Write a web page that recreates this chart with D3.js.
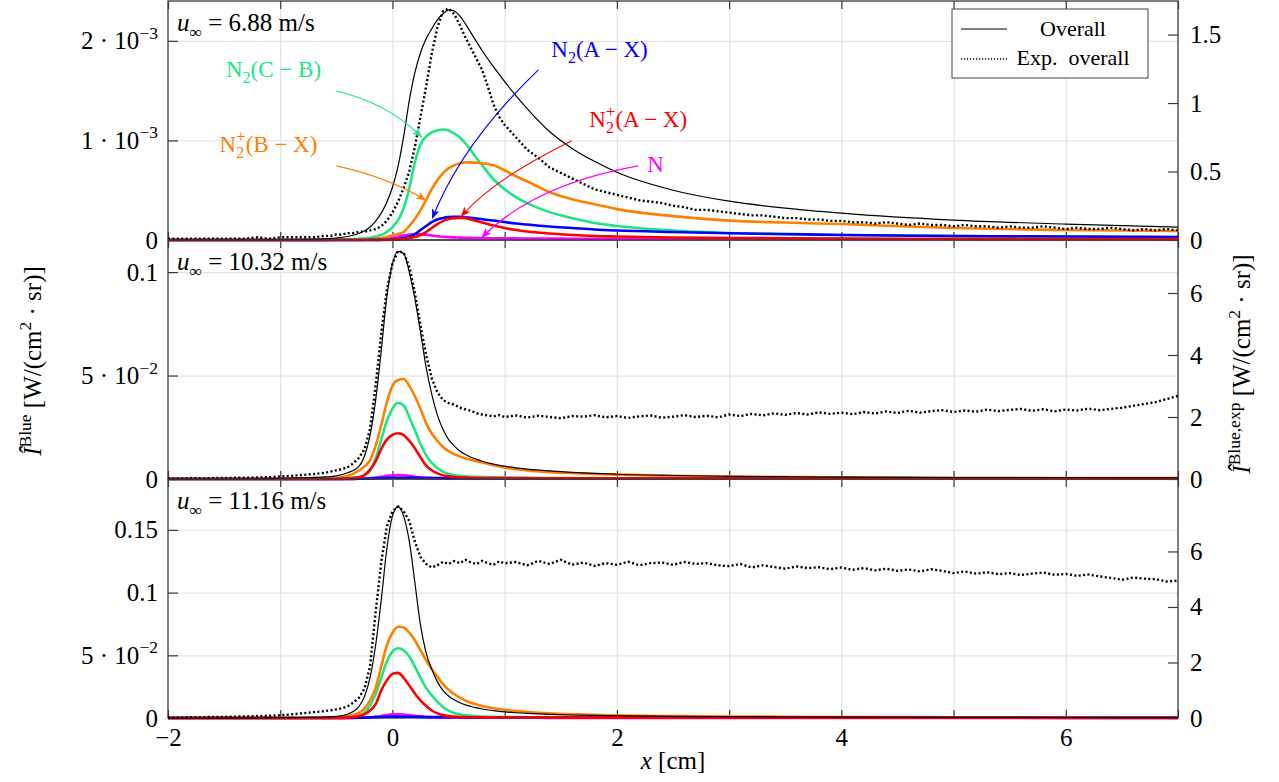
<!DOCTYPE html>
<html>
<head>
<meta charset="utf-8">
<style>
  body { margin: 0; background: #fff; }
  svg, text, tspan { font-family: "Liberation Serif", "DejaVu Serif", serif; }
  text { fill: #000; }
</style>
</head>
<body>
<div id="chartId"></div>
<script src="https://cdn.jsdelivr.net/npm/d3@7/dist/d3.min.js"></script>
<script>

// x positions [cm] of the model curves
const modelX = [-2,-1.5,-1,-0.8,-0.6,-0.5,-0.4,-0.3,-0.25,-0.2,-0.15,-0.1,-0.05,0,0.05,0.1,0.15,0.2,0.25,0.3,0.35,0.4,0.45,0.5,0.55,0.6,0.65,0.7,0.75,0.8,0.9,1.0,1.1,1.2,1.4,1.6,1.8,2.0,2.5,3.0,3.5,4.0,5.0,6.0,7.0];

// u = 6.88 m/s, model values in units of 1e-3 W/(cm2 sr)
const topOverall = [0,0,0.002,0.005,0.012,0.02,0.035,0.065,0.09,0.13,0.19,0.27,0.38,0.53,0.74,1.04,1.40,1.68,1.88,2.02,2.12,2.21,2.27,2.31,2.30,2.25,2.17,2.08,1.99,1.90,1.74,1.59,1.45,1.32,1.09,0.92,0.79,0.68,0.50,0.39,0.32,0.27,0.20,0.16,0.13];
const topCB = [0,0,0,0.001,0.002,0.004,0.007,0.012,0.016,0.022,0.035,0.05,0.08,0.13,0.20,0.32,0.52,0.78,0.96,1.04,1.08,1.10,1.11,1.10,1.07,1.03,0.97,0.90,0.82,0.75,0.61,0.51,0.43,0.37,0.28,0.22,0.17,0.14,0.095,0.07,0.055,0.05,0.04,0.035,0.03];
const topBX = [0,0,0,0,0.001,0.002,0.003,0.005,0.007,0.01,0.014,0.02,0.03,0.045,0.06,0.08,0.14,0.21,0.30,0.40,0.51,0.60,0.67,0.72,0.75,0.77,0.78,0.78,0.775,0.77,0.75,0.70,0.64,0.59,0.48,0.41,0.36,0.31,0.24,0.195,0.175,0.16,0.12,0.10,0.09];
const topAX = [0,0,0,0,0,0,0,0,0,0.001,0.001,0.002,0.003,0.005,0.01,0.02,0.035,0.06,0.10,0.14,0.18,0.205,0.22,0.23,0.233,0.232,0.228,0.222,0.215,0.208,0.195,0.18,0.165,0.155,0.135,0.12,0.105,0.095,0.08,0.068,0.06,0.05,0.04,0.035,0.03];
const topAXion = [0,0,0,0,0,0,0,0,0,0,0,0,0.001,0.003,0.006,0.01,0.02,0.03,0.05,0.08,0.12,0.16,0.19,0.21,0.22,0.222,0.218,0.205,0.19,0.175,0.145,0.12,0.10,0.085,0.065,0.05,0.04,0.035,0.025,0.02,0.018,0.015,0.012,0.01,0.01];
const topN = [0,0,0,0,0,0,0,0.001,0.002,0.003,0.005,0.008,0.012,0.02,0.032,0.045,0.055,0.06,0.058,0.052,0.045,0.038,0.033,0.029,0.026,0.024,0.022,0.021,0.02,0.019,0.018,0.017,0.016,0.015,0.014,0.013,0.012,0.012,0.011,0.01,0.01,0.009,0.008,0.008,0.007];

// u = 10.32 m/s
const midOverall = [0,0,0.0003,0.0006,0.001,0.0015,0.003,0.006,0.011,0.021,0.038,0.062,0.088,0.104,0.110,0.109,0.100,0.087,0.071,0.054,0.041,0.031,0.024,0.019,0.016,0.0135,0.0118,0.0105,0.0095,0.0086,0.0072,0.0062,0.0054,0.0048,0.0039,0.0032,0.0027,0.0023,0.0017,0.0013,0.0011,0.0009,0.0007,0.0006,0.0005];
const midCB = [0,0,0,0,0,0.0002,0.0005,0.001,0.002,0.004,0.010,0.019,0.028,0.034,0.0368,0.0355,0.030,0.0235,0.017,0.0115,0.0078,0.0053,0.0036,0.0025,0.0019,0.0015,0.0013,0.0011,0.001,0.0009,0.0008,0.0007,0.0006,0.0006,0.0005,0.0004,0.0004,0.0003,0.0003,0.0002,0.0002,0.0002,0.0001,0.0001,0.0001];
const midBX = [0,0,0,0.0001,0.0002,0.0005,0.0015,0.004,0.006,0.009,0.016,0.026,0.037,0.045,0.0478,0.0483,0.045,0.040,0.034,0.027,0.022,0.0185,0.0155,0.0135,0.0120,0.0109,0.0100,0.0093,0.0086,0.008,0.0066,0.0055,0.0047,0.0041,0.0033,0.0028,0.0024,0.0021,0.0016,0.0012,0.001,0.0008,0.0006,0.0005,0.0004];
const midAX = [0,0,0,0,0,0,0,0.0001,0.0001,0.0002,0.0003,0.0004,0.0005,0.0006,0.0006,0.0006,0.0006,0.0006,0.0005,0.0005,0.0005,0.0005,0.0004,0.0004,0.0004,0.0004,0.0004,0.0003,0.0003,0.0003,0.0003,0.0003,0.0003,0.0003,0.0002,0.0002,0.0002,0.0002,0.0002,0.0002,0.0001,0.0001,0.0001,0.0001,0.0001];
const midAXion = [0,0,0,0,0,0,0.0002,0.0008,0.0018,0.0045,0.0085,0.0145,0.019,0.0213,0.0221,0.0212,0.0185,0.0148,0.0105,0.0065,0.0042,0.0027,0.0018,0.0013,0.001,0.0008,0.0007,0.0006,0.0006,0.0005,0.0005,0.0004,0.0004,0.0004,0.0003,0.0003,0.0003,0.0003,0.0002,0.0002,0.0002,0.0002,0.0002,0.0002,0.0002];
const midN = [0,0,0,0,0,0,0,0.0001,0.0002,0.0004,0.0007,0.0011,0.0015,0.0018,0.0019,0.0018,0.0015,0.0011,0.0008,0.0006,0.0004,0.0003,0.0003,0.0002,0.0002,0.0002,0.0002,0.0002,0.0002,0.0002,0.0002,0.0002,0.0001,0.0001,0.0001,0.0001,0.0001,0.0001,0.0001,0.0001,0.0001,0.0001,0.0001,0.0001,0.0001];

// u = 11.16 m/s
const botOverall = [0,0,0.0002,0.0004,0.0008,0.0013,0.003,0.009,0.017,0.032,0.058,0.094,0.135,0.161,0.1685,0.161,0.141,0.108,0.074,0.052,0.039,0.029,0.022,0.0175,0.0145,0.0122,0.0105,0.0092,0.0081,0.0072,0.0059,0.0049,0.0042,0.0037,0.0029,0.0024,0.0021,0.0018,0.0013,0.001,0.0008,0.0007,0.0005,0.0004,0.0003];
const botCB = [0,0,0,0,0.0001,0.0002,0.0005,0.002,0.004,0.010,0.019,0.032,0.045,0.053,0.0556,0.054,0.049,0.041,0.032,0.024,0.018,0.013,0.0088,0.0058,0.004,0.0029,0.0022,0.0017,0.0014,0.0012,0.0009,0.0008,0.0007,0.0006,0.0005,0.0005,0.0004,0.0004,0.0003,0.0003,0.0002,0.0002,0.0002,0.0002,0.0002];
const botBX = [0,0,0,0.0001,0.0002,0.0006,0.0015,0.004,0.0075,0.014,0.024,0.041,0.058,0.068,0.0728,0.0722,0.068,0.062,0.054,0.046,0.039,0.033,0.027,0.0225,0.019,0.0162,0.014,0.0122,0.0108,0.0096,0.0078,0.0065,0.0055,0.0048,0.0037,0.003,0.0025,0.0021,0.0015,0.0012,0.001,0.0008,0.0006,0.0005,0.0004];
const botAX = [0,0,0,0,0,0,0.0001,0.0002,0.0003,0.0005,0.0007,0.0009,0.001,0.0011,0.0011,0.0011,0.001,0.001,0.0009,0.0008,0.0008,0.0007,0.0007,0.0006,0.0006,0.0006,0.0005,0.0005,0.0005,0.0005,0.0004,0.0004,0.0004,0.0004,0.0004,0.0003,0.0003,0.0003,0.0002,0.0002,0.0002,0.0002,0.0002,0.0001,0.0001];
const botAXion = [0,0,0,0,0,0,0.0003,0.0015,0.003,0.006,0.011,0.022,0.030,0.0352,0.036,0.032,0.026,0.0195,0.014,0.0095,0.006,0.0037,0.0023,0.0015,0.0011,0.0008,0.0007,0.0006,0.0006,0.0005,0.0005,0.0004,0.0004,0.0004,0.0003,0.0003,0.0003,0.0003,0.0002,0.0002,0.0002,0.0002,0.0002,0.0002,0.0002];
const botN = [0,0,0,0,0,0,0.0001,0.0002,0.0004,0.0006,0.001,0.0016,0.0024,0.0029,0.003,0.0028,0.0023,0.0017,0.0012,0.0008,0.0006,0.0004,0.0003,0.0003,0.0002,0.0002,0.0002,0.0002,0.0002,0.0002,0.0002,0.0002,0.0002,0.0002,0.0001,0.0001,0.0001,0.0001,0.0001,0.0001,0.0001,0.0001,0.0001,0.0001,0.0001];

// experimental samples x [cm]
const expX = [-2,-1.9,-1.8,-1.7,-1.6,-1.5,-1.4,-1.3,-1.2,-1.1,-1,-0.9,-0.8,-0.7,-0.6,
  -0.55,-0.5,-0.45,-0.4,-0.35,-0.3,-0.25,-0.2,-0.15,-0.1,-0.05,0,0.05,0.1,0.15,0.2,0.25,0.3,0.35,0.4,0.45,0.5,0.55,0.6,0.65,0.7,0.75,0.8,0.85,0.9,0.95,1,
  1.1,1.2,1.3,1.4,1.5,1.6,1.7,1.8,1.9,2,2.1,2.2,2.3,2.4,2.5,2.6,2.7,2.8,2.9,3,3.1,3.2,3.3,3.4,3.5,3.6,3.7,3.8,3.9,4,
  4.1,4.2,4.3,4.4,4.5,4.6,4.7,4.8,4.9,5,5.1,5.2,5.3,5.4,5.5,5.6,5.7,5.8,5.9,6,6.1,6.2,6.3,6.4,6.5,6.6,6.7,6.8,6.9,7];
// experimental overall (right axis)
const topExp = [0.01,0.01,0.01,0.01,0.01,0.01,0.01,0.01,0.02,0.01,0.02,0.02,0.02,0.02,0.03,
  0.03,0.04,0.04,0.05,0.05,0.06,0.06,0.07,0.08,0.10,0.14,0.20,0.28,0.38,0.50,0.68,0.90,1.12,1.36,1.55,1.67,1.69,1.65,1.57,1.48,1.40,1.32,1.24,1.12,0.99,0.90,0.84,
  0.75,0.66,0.60,0.53,0.49,0.45,0.41,0.37,0.35,0.33,0.31,0.29,0.28,0.27,0.25,0.24,0.22,0.22,0.21,0.20,
  0.19,0.18,0.18,0.17,0.16,0.16,0.15,0.15,0.14,0.14,0.13,0.13,0.12,0.13,0.12,0.11,0.12,0.11,0.11,0.10,
  0.11,0.10,0.10,0.09,0.10,0.09,0.09,0.10,0.09,0.08,0.09,0.08,0.08,0.09,0.08,0.07,0.08,0.07,0.08,0.07];
const midExp = [0.02,0.02,0.03,0.02,0.03,0.03,0.04,0.04,0.05,0.06,0.08,0.10,0.13,0.16,0.20,
  0.24,0.28,0.32,0.38,0.50,0.68,0.95,1.60,3.00,4.70,6.10,6.95,7.35,7.30,6.85,6.00,4.95,4.00,3.25,2.80,2.55,2.45,2.40,2.30,2.25,2.20,2.12,2.08,2.05,2.02,2.06,2.00,
  2.05,1.98,2.04,2.00,1.96,2.03,2.01,2.06,1.99,2.03,1.97,2.02,2.05,1.98,2.01,2.06,2.00,2.04,1.99,2.08,
  2.03,2.10,2.05,2.12,2.07,2.13,2.08,2.15,2.10,2.14,2.09,2.16,2.11,2.18,2.13,2.20,2.14,2.19,2.22,2.16,
  2.21,2.17,2.24,2.19,2.23,2.26,2.20,2.25,2.18,2.24,2.21,2.27,2.22,2.26,2.30,2.36,2.42,2.48,2.58,2.68];
const botExp = [0.02,0.02,0.03,0.03,0.04,0.04,0.05,0.06,0.07,0.08,0.10,0.13,0.17,0.21,0.25,
  0.28,0.31,0.35,0.42,0.55,0.72,1.05,1.85,3.80,5.60,6.90,7.45,7.62,7.45,7.10,6.35,5.80,5.55,5.42,5.50,5.62,5.55,5.65,5.58,5.70,5.60,5.55,5.66,5.58,5.52,5.64,5.57,
  5.62,5.50,5.66,5.55,5.70,5.52,5.60,5.48,5.58,5.52,5.63,5.50,5.58,5.60,5.52,5.62,5.55,5.58,5.50,5.47,
  5.55,5.42,5.50,5.44,5.38,5.46,5.40,5.43,5.36,5.42,5.34,5.40,5.32,5.38,5.30,5.35,5.28,5.36,5.30,5.22,
  5.28,5.20,5.25,5.18,5.22,5.15,5.20,5.24,5.16,5.19,5.12,5.17,5.10,5.05,4.98,5.06,5.02,5.00,4.92,4.95];

// axis ticks and labels
const speeds = ["6.88", "10.32", "11.16"];
const leftTicks = [[0, 1, 2], [0, 0.05, 0.1], [0, 0.05, 0.1, 0.15]];
const leftLabels = [["0", "1 · 10^−3", "2 · 10^−3"], ["0", "5 · 10^−2", "0.1"], ["0", "5 · 10^−2", "0.1", "0.15"]];
const rightTicks = [[0, 0.5, 1, 1.5], [0, 2, 4, 6], [0, 2, 4, 6]];
const rightLabels = [["0", "0.5", "1", "1.5"], ["0", "2", "4", "6"], ["0", "2", "4", "6"]];
const leftMax = [2.4, 0.1155, 0.1906];
const rightMax = [1.745, 7.71, 8.61];
const xTicks = [-2, -1, 0, 1, 2, 3, 4, 5, 6, 7];
const xLabels = {"-2": "−2", "0": "0", "2": "2", "4": "4", "6": "6"};

// component series, in drawing order
const species = [
  {key: "N", color: "#ff00ff"},
  {key: "CB", color: "#1be67f"},
  {key: "BX", color: "#ff8000"},
  {key: "AX", color: "#0000ff"},
  {key: "AXion", color: "#ff0000"}
];
const modelData = [
  {CB: topCB, BX: topBX, AX: topAX, AXion: topAXion, N: topN, overall: topOverall, exp: topExp},
  {CB: midCB, BX: midBX, AX: midAX, AXion: midAXion, N: midN, overall: midOverall, exp: midExp},
  {CB: botCB, BX: botBX, AX: botAX, AXion: botAXion, N: botN, overall: botOverall, exp: botExp}
];

// annotations in the top panel (left axis units)
const notes = [
  {parts: [["N"], ["2", "sub"], ["(C − B)"]], color: "#1be67f", at: [-1.06, 1.64], from: [-0.5, 1.497], ctrl: [-0.03, 1.37], to: [0.258, 1.035]},
  {parts: [["N"], ["2", "sub"], ["+", "supback"], ["(B − X)"]], color: "#ff8000", at: [-1.105, 0.884], from: [-0.5, 0.744], ctrl: [-0.04, 0.63], to: [0.294, 0.402]},
  {parts: [["N"], ["2", "sub"], ["(A − X)"]], color: "#0000ff", at: [1.845, 1.84], from: [1.30, 1.709], ctrl: [0.615, 0.965], to: [0.357, 0.221]},
  {parts: [["N"], ["2", "sub"], ["+", "supback"], ["(A − X)"]], color: "#ff0000", at: [2.19, 1.136], from: [1.595, 0.995], ctrl: [0.91, 0.62], to: [0.615, 0.241]},
  {parts: [["N"]], color: "#ff00ff", at: [2.344, 0.683], from: [2.19, 0.744], ctrl: [1.27, 0.56], to: [0.80, 0.03]}
];

// ---- layout ----
const W = 1279, H = 782;
const plotL = 168, plotR = 1178, plotW = plotR - plotL;
const panelTop = [1, 240, 479], panelH = 239;
const gridColor = "#e4e4e4", axisColor = "#3a3a3a";

const svg = d3.select("#chartId").append("svg").attr("width", W).attr("height", H);
const defs = svg.append("defs");

const x = d3.scaleLinear().domain([-2, 7]).range([plotL, plotR]);

// writes text with sub/superscripts into a <text>
function rich(textSel, parts, size) {
  let shift = 0;
  parts.forEach(p => {
    const kind = p[1] || "";
    let s = 0, fs = size, dx = 0;
    if (kind === "sub") { s = 0.28 * size; fs = 0.7 * size; }
    if (kind === "sup" ) { s = -0.42 * size; fs = 0.7 * size; }
    if (kind === "supback") { s = -0.45 * size; fs = 0.75 * size; dx = -0.36 * size; }
    const t = textSel.append("tspan").attr("dy", s - shift).attr("font-size", fs).text(p[0]);
    if (dx) t.attr("dx", dx);
    if (p[2] === "it") t.attr("font-style", "italic");
    shift = s;
  });
  if (shift) textSel.append("tspan").attr("dy", -shift).text("\u200b");
}

function labelWithExp(sel, size) {
  sel.each(function () {
    const t = d3.select(this), s = t.text();
    if (s.indexOf("^") < 0) return;
    const [base, ex] = s.split("^");
    t.text(null);
    t.append("tspan").text(base);
    t.append("tspan").attr("dy", -0.42 * size).attr("font-size", 0.7 * size).text(ex);
  });
}

const line = d3.line().curve(d3.curveMonotoneX);

panelTop.forEach((top, i) => {
  const bottom = top + panelH;
  const yL = d3.scaleLinear().domain([0, leftMax[i]]).range([bottom, top]);
  const yR = d3.scaleLinear().domain([0, rightMax[i]]).range([bottom, top]);
  const g = svg.append("g");
  const data = modelData[i];

  // grid
  const gx = g.append("g").attr("transform", `translate(0,${bottom})`)
    .call(d3.axisBottom(x).tickValues(xTicks.slice(1, -1)).tickSize(-panelH).tickFormat(""));
  const gy = g.append("g").attr("transform", `translate(${plotL},0)`)
    .call(d3.axisLeft(yL).tickValues(leftTicks[i].slice(1)).tickSize(-plotW).tickFormat(""));
  [gx, gy].forEach(a => {
    a.select(".domain").remove();
    a.selectAll("line").attr("stroke", gridColor).attr("stroke-width", 1.3);
  });

  // frame
  g.append("rect").attr("x", plotL).attr("y", top).attr("width", plotW).attr("height", panelH)
    .attr("fill", "none").attr("stroke", axisColor).attr("stroke-width", 1.3);

  // ticks
  const axes = [];
  axes.push(g.append("g").attr("transform", `translate(${plotL},0)`)
    .call(d3.axisLeft(yL).tickValues(leftTicks[i]).tickSize(-10).tickPadding(10)
      .tickFormat((d, j) => leftLabels[i][j])));
  axes.push(g.append("g").attr("transform", `translate(${plotR},0)`)
    .call(d3.axisRight(yR).tickValues(rightTicks[i]).tickSize(-10).tickPadding(12)
      .tickFormat((d, j) => rightLabels[i][j])));
  axes.push(g.append("g").attr("transform", `translate(0,${bottom})`)
    .call(d3.axisBottom(x).tickValues(xTicks).tickSize(-8).tickPadding(10)
      .tickFormat(d => i === 2 && xLabels[d] !== undefined ? xLabels[d] : "")));
  axes.push(g.append("g").attr("transform", `translate(0,${top})`)
    .call(d3.axisTop(x).tickValues(xTicks).tickSize(-8).tickFormat("")));
  axes.forEach(a => {
    a.attr("font-family", null);
    a.select(".domain").remove();
    a.selectAll("line").attr("stroke", axisColor).attr("stroke-width", 1.2);
    a.selectAll("text").attr("font-size", 25).attr("fill", "#000");
    labelWithExp(a.selectAll("text"), 25);
  });

  // curves
  defs.append("clipPath").attr("id", "clip" + i).append("rect")
    .attr("x", plotL).attr("y", top).attr("width", plotW).attr("height", panelH + 2);
  const plot = g.append("g").attr("clip-path", `url(#clip${i})`);

  species.forEach(sp => {
    plot.append("path")
      .attr("d", line(modelX.map((xv, k) => [x(xv), yL(data[sp.key][k])])))
      .attr("fill", "none").attr("stroke", sp.color).attr("stroke-width", 2.6);
  });
  plot.append("path")
    .attr("d", line(modelX.map((xv, k) => [x(xv), yL(data.overall[k])])))
    .attr("fill", "none").attr("stroke", "#000").attr("stroke-width", 1.2);
  plot.append("path")
    .attr("d", d3.line()(expX.map((xv, k) => [x(xv), yR(data.exp[k])])))
    .attr("fill", "none").attr("stroke", "#000").attr("stroke-width", 2.4)
    .attr("stroke-dasharray", "2,2.4");

  // speed label
  const sl = g.append("text").attr("x", plotL + 9).attr("y", top + 30).attr("font-size", 25);
  rich(sl, [["u", "", "it"], ["∞", "sub"], [" = " + speeds[i] + " m/s"]], 25);

  if (i === 0) {
    // arrows and species labels
    notes.forEach((n, k) => {
      const id = "arrow" + k;
      defs.append("marker").attr("id", id).attr("viewBox", "0 0 10 8")
        .attr("refX", 9).attr("refY", 4).attr("markerWidth", 10).attr("markerHeight", 8)
        .attr("markerUnits", "userSpaceOnUse").attr("orient", "auto")
        .append("path").attr("d", "M0,0 L10,4 L0,8 L2.5,4 Z").attr("fill", n.color);
      const p0 = [x(n.from[0]), yL(n.from[1])], c = [x(n.ctrl[0]), yL(n.ctrl[1])], p1 = [x(n.to[0]), yL(n.to[1])];
      const path = d3.path();
      path.moveTo(p0[0], p0[1]);
      path.quadraticCurveTo(c[0], c[1], p1[0], p1[1]);
      g.append("path").attr("d", path.toString()).attr("fill", "none")
        .attr("stroke", n.color).attr("stroke-width", 1.1).attr("marker-end", `url(#${id})`);
      const t = g.append("text").attr("x", x(n.at[0])).attr("y", yL(n.at[1]))
        .attr("text-anchor", "middle").attr("font-size", 23).style("fill", n.color);
      rich(t, n.parts, 23);
      t.selectAll("tspan").style("fill", n.color);
    });

    // legend
    const lg = g.append("g");
    lg.append("rect").attr("x", 952).attr("y", 9).attr("width", 196).attr("height", 69)
      .attr("fill", "#fff").attr("stroke", "#555").attr("stroke-width", 1.1);
    lg.append("line").attr("x1", 961).attr("x2", 1007).attr("y1", 29).attr("y2", 29)
      .attr("stroke", "#000").attr("stroke-width", 1.2);
    lg.append("line").attr("x1", 961).attr("x2", 1007).attr("y1", 59).attr("y2", 59)
      .attr("stroke", "#000").attr("stroke-width", 1.6).attr("stroke-dasharray", "1.2,1.8");
    lg.append("text").attr("x", 1073).attr("y", 36).attr("text-anchor", "middle")
      .attr("font-size", 22).text("Overall");
    lg.append("text").attr("x", 1073).attr("y", 65).attr("text-anchor", "middle")
      .attr("font-size", 22).text("Exp.\u2002overall");
  }
});

// axis titles
const lt = svg.append("text").attr("transform", "translate(41,361) rotate(-90)")
  .attr("text-anchor", "middle").attr("font-size", 25);
rich(lt, [["Î", "", "it"], ["Blue", "sup"], [" [W/(cm"], ["2", "sup"], [" · sr)]"]], 25);

const rt = svg.append("text").attr("transform", "translate(1250,364) rotate(-90)")
  .attr("text-anchor", "middle").attr("font-size", 25);
rich(rt, [["Î", "", "it"], ["Blue,exp", "sup"], [" [W/(cm"], ["2", "sup"], [" · sr)]"]], 25);

const xt = svg.append("text").attr("x", (plotL + plotR) / 2).attr("y", 769)
  .attr("text-anchor", "middle").attr("font-size", 25);
rich(xt, [["x", "", "it"], [" [cm]"]], 25);

</script>
</body>
</html>
